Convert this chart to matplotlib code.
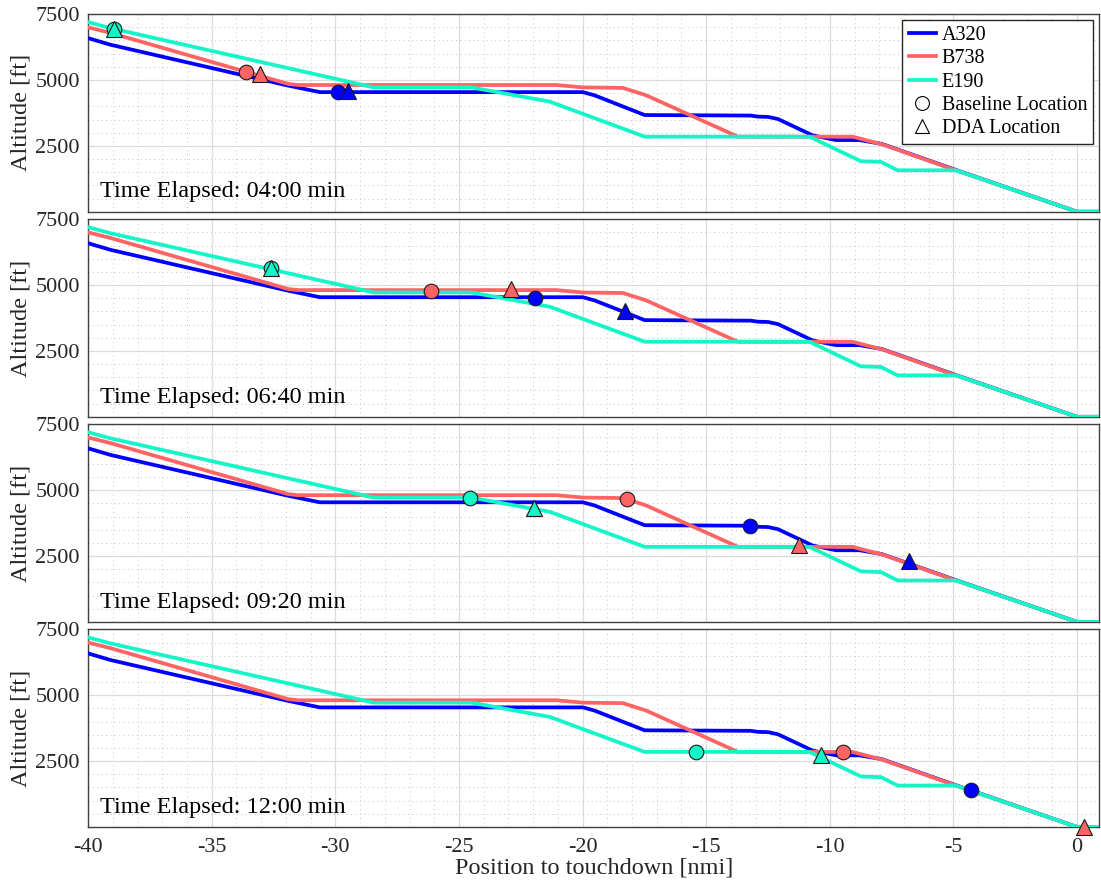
import numpy as np
import matplotlib
matplotlib.use("Agg")
import matplotlib.pyplot as plt
from matplotlib.lines import Line2D
from matplotlib.ticker import MultipleLocator

# ---------------- data ----------------
aircraft = ["A320", "B738", "E190"]
colors = ["#0000FF", "#FF6464", "#14F5C8"]

a320_x = [-40.0, -39.1, -31.97, -30.63, -19.99, -19.52, -17.49, -13.2, -12.9, -12.5,
          -12.1, -10.7, -9.75, -8.8, -7.9, -4.9, 0.0, 0.9]
a320_alt = [6590, 6340, 4800, 4540, 4540, 4420, 3670, 3650, 3610, 3600,
            3520, 2900, 2720, 2720, 2575, 1585, 0, 0]

b738_x = [-40.0, -39.1, -31.9, -31.5, -21.06, -19.99, -18.37, -17.43, -13.72, -9.08,
          -8.54, -7.87, -4.9, 0.0, 0.9]
b738_alt = [7000, 6790, 4850, 4810, 4810, 4720, 4700, 4420, 2850, 2850,
            2716, 2555, 1573, 0, 0]

e190_x = [-40.0, -39.1, -28.45, -24.5, -21.33, -17.49, -10.83, -8.74, -7.93, -7.26,
          -4.9, 0.0, 0.9]
e190_alt = [7200, 6970, 4720, 4720, 4180, 2850, 2850, 1916, 1891, 1573,
            1573, 0, 0]

time_labels = ["04:00", "06:40", "09:20", "12:00"]

# marker positions per panel (NaN = not shown)
a320_base_x = [-29.89, -21.94, -13.23, -4.28]
a320_base_alt = [4530, 4525, 3652, 1402]
a320_dda_x = [-29.48, -18.28, -6.79, np.nan]
a320_dda_alt = [4580, 4023, 2305, np.nan]

b738_base_x = [-33.62, -26.14, -18.21, -9.48]
b738_base_alt = [5316, 4790, 4649, 2852]
b738_dda_x = [-33.05, -22.88, -11.23, 0.28]
b738_dda_alt = [5212, 4835, 2934, 0]

e190_base_x = [-38.95, -32.61, -24.54, -15.41]
e190_base_alt = [6928, 5634, 4699, 2852]
e190_dda_x = [-38.95, -32.61, -21.98, -10.36]
e190_dda_alt = [6928, 5634, 4320, 2727]

x_ticks = [-40, -35, -30, -25, -20, -15, -10, -5, 0]
y_ticks = [2500, 5000, 7500]

# ---------------- plot ----------------
plt.rcParams["font.family"] = ["Liberation Serif", "DejaVu Serif"]
plt.rcParams["axes.unicode_minus"] = False

fig = plt.figure(figsize=(11.01, 8.84), dpi=100)
axes = fig.subplots(4, 1, sharex=True, gridspec_kw=dict(hspace=0.038))
fig.subplots_adjust(left=0.08, right=0.9985, top=0.984, bottom=0.0645)

lines_x = [a320_x, b738_x, e190_x]
lines_y = [a320_alt, b738_alt, e190_alt]
base_x = [a320_base_x, b738_base_x, e190_base_x]
base_y = [a320_base_alt, b738_base_alt, e190_base_alt]
dda_x = [a320_dda_x, b738_dda_x, e190_dda_x]
dda_y = [a320_dda_alt, b738_dda_alt, e190_dda_alt]

for i, ax in enumerate(axes):
    for k in range(3):
        ax.plot(lines_x[k], lines_y[k], color=colors[k], lw=2.7, zorder=3,
                solid_joinstyle="round")
    for k in range(3):
        if not np.isnan(base_x[k][i]):
            ax.plot(base_x[k][i], base_y[k][i], marker="o", ms=10.5, mfc=colors[k],
                    mec="#1a1a1a", mew=0.8, ls="none", zorder=5, clip_on=False)
        if not np.isnan(dda_x[k][i]):
            ax.plot(dda_x[k][i], dda_y[k][i], marker="^", ms=11, mfc=colors[k],
                    mec="#1a1a1a", mew=0.8, ls="none", zorder=6, clip_on=False)

    ax.set_xlim(-40, 0.9)
    ax.set_ylim(0, 7500)
    ax.set_yticks(y_ticks)
    ax.set_xticks(x_ticks)
    ax.xaxis.set_minor_locator(MultipleLocator(1))
    ax.yaxis.set_minor_locator(MultipleLocator(500))
    ax.grid(which="major", color="#DCDCDC", lw=0.9, ls="-", zorder=0)
    ax.grid(which="minor", color="#C4C4C4", lw=0.7, ls=(0, (1, 3.5)), zorder=0)
    ax.set_axisbelow(True)
    ax.tick_params(which="both", length=0)
    ax.tick_params(axis="y", labelsize=16, pad=6, colors="#262626")
    ax.tick_params(axis="x", labelsize=16, pad=8, colors="#262626")
    for sp in ax.spines.values():
        sp.set_color("#404040")
        sp.set_linewidth(1.0)
    ax.set_ylabel("Altitude [ft]", fontsize=17.5, labelpad=3, color="#262626")
    ax.text(0.012, 0.10, f"Time Elapsed: {time_labels[i]} min", transform=ax.transAxes,
            fontsize=17.5, ha="left", va="center", color="black", zorder=7)

axes[-1].set_xlabel("Position to touchdown [nmi]", fontsize=17.5, labelpad=0, color="#262626")

handles = [Line2D([], [], color=c, lw=2.7) for c in colors]
handles += [Line2D([], [], marker="o", ls="none", ms=10, mfc="white", mec="black", mew=0.8),
            Line2D([], [], marker="^", ls="none", ms=10.5, mfc="white", mec="black", mew=0.8)]
labels = aircraft + ["Baseline Location", "DDA Location"]
leg = axes[0].legend(handles, labels, loc="upper right", fontsize=14.5, frameon=True,
                     fancybox=False, edgecolor="#262626", framealpha=1,
                     handlelength=1.35, handletextpad=0.3, labelspacing=0.2,
                     borderpad=0.3, borderaxespad=0.3)
leg.get_frame().set_linewidth(1.0)
leg.set_zorder(10)

fig.savefig("out.png", dpi=100)
